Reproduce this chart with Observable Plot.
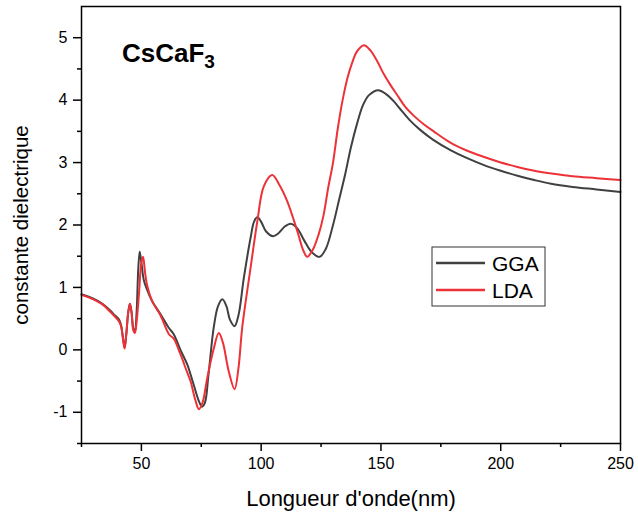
<!DOCTYPE html>
<html>
<head>
<meta charset="utf-8">
<script src="https://cdn.jsdelivr.net/npm/d3@7"></script>
<script src="https://cdn.jsdelivr.net/npm/@observablehq/plot@0.6"></script>
<style>
  html, body { margin: 0; padding: 0; background: #fff; }
  #chart { position: relative; width: 638px; height: 513px; }
</style>
</head>
<body>
<div id="chart"></div>
<script>
// Wavelength (nm) and dielectric constant, GGA
const ggaX = [25, 28, 31, 34, 37, 39, 40.6, 41.5, 42.3, 43, 43.7, 44.5, 45.2, 45.9, 46.6, 47.3, 48, 48.7, 49.3, 50, 51, 52, 54.5, 58, 61.5, 63.5, 66.3, 69.1, 70.5, 72, 74, 75.3, 76.5, 78, 80.2, 82, 83.8, 85.5, 87, 88.9, 90.5, 92.8, 95.6, 97, 98.4, 100, 102, 105, 107, 110, 112.3, 115, 118, 121, 124.4, 127, 130, 132.5, 135, 137.5, 140, 142.5, 145, 148.9, 152, 155.4, 158.2, 162, 166.5, 172, 179, 186, 193, 200, 207, 214, 221, 230, 240, 250];
const ggaY = [0.89, 0.85, 0.8, 0.73, 0.63, 0.55, 0.49, 0.4, 0.2, 0.04, 0.25, 0.6, 0.74, 0.6, 0.35, 0.29, 0.6, 1.3, 1.57, 1.4, 1.12, 1.0, 0.78, 0.57, 0.35, 0.25, 0.0, -0.23, -0.39, -0.58, -0.82, -0.91, -0.85, -0.4, 0.36, 0.7, 0.81, 0.7, 0.48, 0.38, 0.55, 1.16, 1.8, 2.05, 2.13, 2.05, 1.9, 1.82, 1.86, 1.98, 2.02, 1.95, 1.75, 1.57, 1.49, 1.62, 2.0, 2.4, 2.8, 3.25, 3.62, 3.92, 4.08, 4.16, 4.1, 3.98, 3.85, 3.68, 3.52, 3.36, 3.2, 3.07, 2.96, 2.87, 2.79, 2.72, 2.66, 2.61, 2.57, 2.53];
// LDA
const ldaX = [25, 28, 31, 34, 37, 39, 40.6, 41.5, 42.3, 43, 43.7, 44.5, 45.2, 45.9, 46.6, 47.3, 48, 49, 50, 50.7, 51.5, 52.3, 54.5, 58, 61.5, 63.5, 66.3, 69, 70.5, 72.5, 74, 75.5, 77.5, 80.1, 82.3, 84, 86.5, 88.9, 90.5, 92.1, 95.6, 98.4, 101.1, 104.6, 107.5, 110.9, 115.1, 117.5, 119.2, 121.5, 124, 126, 128, 130, 132, 134, 136, 138, 140, 142.9, 145.5, 148.5, 151, 154, 157, 160, 164, 168, 172, 179, 186, 193, 200, 207, 214, 222, 230, 240, 250];
const ldaY = [0.88, 0.84, 0.79, 0.72, 0.61, 0.53, 0.46, 0.38, 0.18, 0.02, 0.25, 0.6, 0.74, 0.6, 0.32, 0.27, 0.45, 0.9, 1.4, 1.49, 1.25, 1.05, 0.78, 0.55, 0.25, 0.18, -0.07, -0.35, -0.5, -0.8, -0.95, -0.85, -0.45, 0.0, 0.27, 0.12, -0.35, -0.63, -0.3, 0.36, 1.32, 2.06, 2.62, 2.80, 2.65, 2.38, 1.90, 1.6, 1.49, 1.6, 1.85, 2.15, 2.6, 3.0, 3.55, 4.0, 4.35, 4.6, 4.78, 4.88, 4.8, 4.62, 4.43, 4.24, 4.07, 3.9, 3.74, 3.61, 3.5, 3.32, 3.19, 3.09, 3.0, 2.93, 2.87, 2.82, 2.78, 2.75, 2.72];

const xMajor = [50, 100, 150, 200, 250];
const xMinor = [25, 75, 125, 175, 225];
const yMajor = [-1, 0, 1, 2, 3, 4, 5];
const yMinor = [-1.5, -0.5, 0.5, 1.5, 2.5, 3.5, 4.5];
const seriesNames = ["GGA", "LDA"];
const seriesColors = ["#404040", "#ec3237"];
const titleMain = "CsCaF";
const titleSub = "3";
const xTitle = "Longueur d'onde(nm)";
const yTitle = "constante dielectrique";

const gga = ggaX.map((x, i) => ({x, y: ggaY[i]}));
const lda = ldaX.map((x, i) => ({x, y: ldaY[i]}));

const font = "'Liberation Sans', Arial, sans-serif";
const fmt = d => String(d);

const plot = Plot.plot({
  width: 638,
  height: 513,
  marginLeft: 81,
  marginRight: 18,
  marginTop: 6,
  marginBottom: 70,
  style: {fontFamily: font, fontSize: "16px", color: "#000", background: "#fff"},
  x: {domain: [25, 250]},
  y: {domain: [-1.5, 5.5]},
  marks: [
    Plot.line(gga, {x: "x", y: "y", stroke: seriesColors[0], strokeWidth: 2, curve: "catmull-rom"}),
    Plot.line(lda, {x: "x", y: "y", stroke: seriesColors[1], strokeWidth: 2, curve: "catmull-rom"}),
    Plot.frame({stroke: "#000", strokeWidth: 1.5}),
    Plot.axisX({ticks: xMajor, tickSize: 8, tickPadding: 6, strokeWidth: 1.5, label: null, fontSize: 16, tickFormat: fmt}),
    Plot.axisX({ticks: xMinor, tickSize: 4, strokeWidth: 1.5, tickFormat: () => "", label: null}),
    Plot.axisY({ticks: yMajor, tickSize: 8, tickPadding: 6, strokeWidth: 1.5, label: null, fontSize: 16, tickFormat: fmt}),
    Plot.axisY({ticks: yMinor, tickSize: 4, strokeWidth: 1.5, tickFormat: () => "", label: null}),
    Plot.text([xTitle], {frameAnchor: "bottom", dy: 62, fontSize: 22, lineAnchor: "bottom", textAnchor: "middle"}),
    Plot.text([yTitle], {frameAnchor: "left", dx: -60, rotate: -90, fontSize: 20.5, textAnchor: "middle"})
  ]
});

document.getElementById("chart").appendChild(plot);

const svg = d3.select(plot);
// Title with subscript
const t = svg.append("text")
  .attr("x", 122).attr("y", 62)
  .attr("text-anchor", "start")
  .attr("font-family", font).attr("font-weight", "bold").attr("font-size", 26)
  .attr("fill", "#000");
t.append("tspan").text(titleMain);
t.append("tspan").attr("dy", 6).attr("font-size", 19).text(titleSub);

// Legend
const lg = svg.append("g").attr("transform", "translate(432,247)");
lg.append("rect").attr("width", 113).attr("height", 59)
  .attr("fill", "#fff").attr("stroke", "#333").attr("stroke-width", 1);
seriesNames.forEach((name, i) => {
  const yy = 16 + i * 27;
  lg.append("line").attr("x1", 4).attr("x2", 53).attr("y1", yy).attr("y2", yy)
    .attr("stroke", seriesColors[i]).attr("stroke-width", 2.5);
  lg.append("text").attr("x", 60).attr("y", yy + 8)
    .attr("text-anchor", "start")
    .attr("font-family", font).attr("font-size", 21).attr("fill", "#000").text(name);
});
</script>
</body>
</html>
